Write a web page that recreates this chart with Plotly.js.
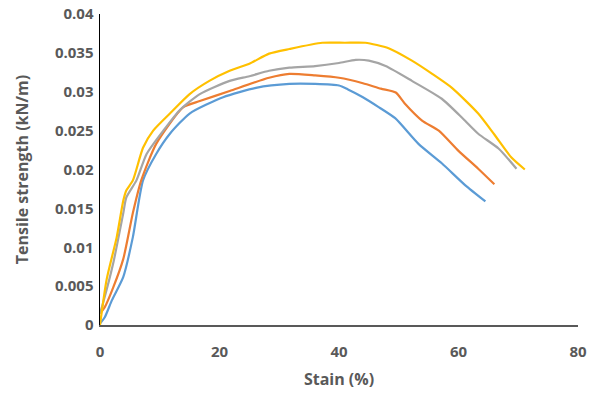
<!DOCTYPE html>
<html><head><meta charset="utf-8">
<script src="https://cdn.plot.ly/plotly-3.0.1.min.js"></script>
<style>html,body{margin:0;padding:0;background:#fff}#c{width:600px;height:393px}</style>
</head><body><div id="c"></div>
<script>
const blueX = [0, 0.8, 2, 3.9, 5.5, 7.2, 9.4, 11.7, 15, 20.6, 26.1, 31.7, 36, 40, 41.5, 44, 46.7, 49.4, 53.3, 57.2, 61.1, 64.5];
const blueY = [0.0002, 0.001, 0.0032, 0.0062, 0.0113, 0.0186, 0.022, 0.0246, 0.0272, 0.0293, 0.0305, 0.031, 0.031, 0.0308, 0.0303, 0.0293, 0.028, 0.0266, 0.0233, 0.0208, 0.018, 0.0159];
const orangeX = [0, 0.8, 2.2, 3.9, 5.5, 6.9, 9.4, 13.9, 16.7, 21.7, 28.3, 31.7, 36, 40, 44, 47, 49.5, 51, 53.9, 56.7, 60, 63.3, 66];
const orangeY = [0.0015, 0.0023, 0.0048, 0.0085, 0.0144, 0.0186, 0.0233, 0.028, 0.0288, 0.0301, 0.0318, 0.0323, 0.0321, 0.0318, 0.0311, 0.0304, 0.0299, 0.0285, 0.0263, 0.025, 0.0224, 0.0201, 0.0181];
const grayX = [0, 0.5, 2.2, 3.9, 4.4, 6.1, 7.8, 10.6, 13.3, 16.7, 21.7, 25, 28.3, 31.7, 36, 40, 42.8, 45, 47.8, 52.2, 57.2, 60.8, 63.3, 66.7, 69.7];
const grayY = [0.0015, 0.0028, 0.0079, 0.0144, 0.0164, 0.0186, 0.022, 0.025, 0.0276, 0.0297, 0.0314, 0.032, 0.0327, 0.0331, 0.0333, 0.0337, 0.0341, 0.034, 0.0333, 0.0314, 0.0291, 0.0265, 0.0246, 0.0227, 0.0201];
const yellowX = [0, 1.1, 2.8, 3.9, 4.4, 5.5, 7.2, 8.9, 11.7, 15, 18.3, 21.7, 25, 28.3, 31.7, 37.2, 41, 44.4, 48.3, 52.2, 55.6, 58.9, 63.3, 66, 68.9, 71.1];
const yellowY = [0, 0.0058, 0.0113, 0.016, 0.0173, 0.0186, 0.0228, 0.025, 0.0272, 0.0297, 0.0314, 0.0327, 0.0336, 0.0349, 0.0355, 0.0363, 0.0363, 0.0363, 0.0356, 0.034, 0.0323, 0.0305, 0.0272, 0.0245, 0.0215, 0.02];
const xTicks = [0, 20, 40, 60, 80];
const yTicks = [0, 0.005, 0.01, 0.015, 0.02, 0.025, 0.03, 0.035, 0.04];
const yTickText = ['0', '0.005', '0.01', '0.015', '0.02', '0.025', '0.03', '0.035', '0.04'];

const mk = (x, y, c) => ({x, y, type: 'scatter', mode: 'lines', line: {color: c, width: 2.2, shape: 'spline', smoothing: 0.6}, hoverinfo: 'skip'});
const data = [
  mk(blueX, blueY, '#5B9BD5'),
  mk(orangeX, orangeY, '#ED7D31'),
  mk(grayX, grayY, '#A5A5A5'),
  mk(yellowX, yellowY, '#FFC000')
];
const tf = {family: 'Open Sans, sans-serif', size: 15, color: '#595959', weight: 'bold'};
const ttf = {family: 'Open Sans, sans-serif', size: 16, color: '#595959', weight: 'bold'};
const layout = {
  width: 600, height: 393,
  margin: {l: 100, r: 22, t: 14, b: 68},
  paper_bgcolor: '#fff', plot_bgcolor: '#fff',
  showlegend: false,
  xaxis: {
    range: [0, 80], tickvals: xTicks, ticktext: xTicks.map(String),
    showgrid: false, zeroline: false, showline: true, linecolor: '#595959', linewidth: 1.5,
    ticks: '', tickfont: tf, ticklabelstandoff: 12,
    title: {text: 'Stain (%)', font: ttf, standoff: 14}
  },
  yaxis: {
    range: [0, 0.04], tickvals: yTicks, ticktext: yTickText,
    showgrid: false, zeroline: false, showline: true, linecolor: '#000', linewidth: 1.5,
    ticks: '', tickfont: tf, ticklabelstandoff: 2,
    title: {text: 'Tensile strength (kN/m)', font: ttf, standoff: 22}
  }
};
Plotly.newPlot('c', data, layout, {staticPlot: true, displayModeBar: false});
</script></body></html>
